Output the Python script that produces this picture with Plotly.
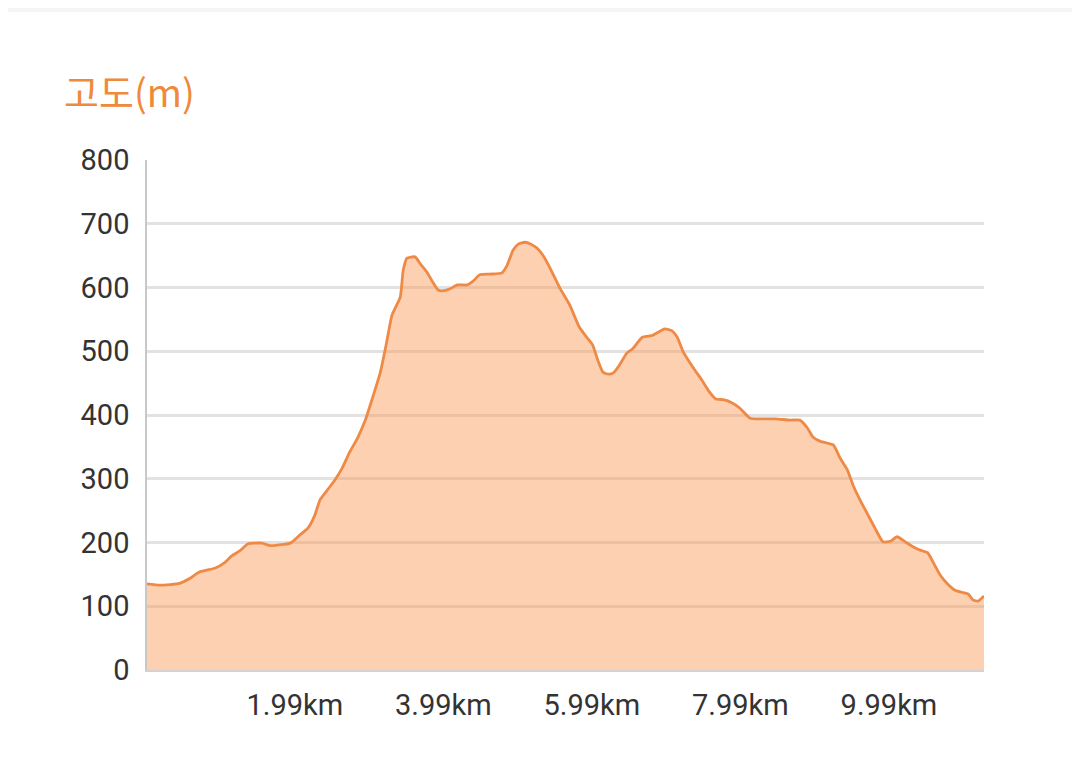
import plotly.graph_objects as go

# distance (km) and elevation (m)
distance_km = [
    0.00, 0.18, 0.44, 0.58, 0.71, 0.92, 1.05, 1.14, 1.25, 1.36, 1.45, 1.55, 1.66, 1.76, 1.93,
    2.06, 2.17, 2.26, 2.33, 2.44, 2.53, 2.63, 2.73, 2.84, 2.94, 3.04, 3.14, 3.22, 3.30, 3.41,
    3.45, 3.50, 3.61, 3.68, 3.77, 3.84, 3.92, 4.00, 4.08, 4.18, 4.31, 4.39, 4.48, 4.62, 4.78,
    4.85, 4.93, 5.00, 5.09, 5.17, 5.25, 5.34, 5.42, 5.56, 5.69, 5.82, 5.92, 6.00, 6.07, 6.14,
    6.21, 6.28, 6.36, 6.46, 6.54, 6.67, 6.81, 6.97, 7.07, 7.14, 7.22, 7.35, 7.47, 7.58, 7.66,
    7.76, 7.88, 7.98, 8.12, 8.25, 8.46, 8.66, 8.79, 8.89, 8.97, 9.06, 9.24, 9.33, 9.43, 9.51,
    9.60, 9.70, 9.80, 9.91, 10.01, 10.10, 10.21, 10.32, 10.41, 10.51, 10.59, 10.68, 10.77,
    10.88, 10.97, 11.06, 11.12, 11.19, 11.27,
]
elevation_m = [
    135, 133, 136, 144, 154, 160, 169, 179, 187, 198, 199, 199, 195, 196, 199,
    212, 223, 243, 267, 284, 298, 317, 342, 365, 392, 428, 466, 510, 557, 585,
    627, 646, 648, 637, 624, 610, 596, 595, 598, 604, 604, 610, 620, 621, 623,
    635, 659, 668, 671, 668, 662, 649, 632, 599, 573, 538, 522, 510, 486, 467,
    464, 466, 478, 497, 504, 522, 525, 535, 532, 522, 499, 475, 455, 435, 425,
    424, 419, 411, 395, 394, 394, 392, 392, 380, 365, 359, 353, 333, 314, 289,
    267, 245, 223, 201, 202, 209, 201, 193, 188, 184, 168, 149, 136,
    125, 122, 119, 110, 108, 116,
]

x_tick_values = [1.99, 3.99, 5.99, 7.99, 9.99]
x_tick_labels = ["1.99km", "3.99km", "5.99km", "7.99km", "9.99km"]
y_tick_values = [0, 100, 200, 300, 400, 500, 600, 700, 800]

title_text = "고도(m)"

fig = go.Figure()
fig.add_trace(go.Scatter(
    x=distance_km,
    y=elevation_m,
    mode="lines",
    line=dict(color="#EE8A45", width=2.8, shape="spline", smoothing=0.5),
    fill="tozeroy",
    fillcolor="rgba(250,150,85,0.45)",
    hoverinfo="skip",
    showlegend=False,
))

# page has an 8px body margin: figure coordinates = reference coordinates - 8
W, H = 1064, 744
L, T = 139, 152
R, B = W - 976, H - 662
pw, ph = W - L - R, H - T - B

fig.update_layout(
    width=W, height=H,
    margin=dict(l=L, r=R, t=T, b=B, autoexpand=False),
    paper_bgcolor="white",
    plot_bgcolor="white",
    font=dict(family="Roboto, 'Noto Sans CJK KR', sans-serif", color="#333333", size=29),
    xaxis=dict(
        range=[0, 11.27],
        tickvals=x_tick_values,
        ticktext=x_tick_labels,
        showgrid=False,
        zeroline=False,
        showline=True,
        linecolor="#d2d2d2",
        linewidth=1.5,
        ticks="",
        ticklabelstandoff=8,
        tickfont=dict(size=29, color="#333333"),
        fixedrange=True,
    ),
    yaxis=dict(
        range=[0, 800],
        tickvals=y_tick_values,
        showgrid=True,
        gridcolor="#e2e2e2",
        gridwidth=2.5,
        zeroline=False,
        showline=True,
        linecolor="#c8c8c8",
        linewidth=1.5,
        ticks="",
        ticklabelstandoff=10,
        tickfont=dict(size=29, color="#333333"),
        fixedrange=True,
    ),
    shapes=[dict(
        type="rect", xref="paper", yref="paper",
        x0=-L / pw, x1=(W - L) / pw,
        y0=1 + (T - 4) / ph, y1=1 + T / ph + 0.01,
        fillcolor="#f5f5f5", line=dict(width=0), layer="below",
    )],
    annotations=[dict(
        text=title_text,
        xref="paper", yref="paper",
        x=(54 - L) / pw, y=1 + (T - 82) / ph,
        xanchor="left", yanchor="middle",
        showarrow=False,
        font=dict(family="'Noto Sans CJK KR', sans-serif", size=38, color="#EE8A3C"),
    )],
)

fig.write_html("out.html")
